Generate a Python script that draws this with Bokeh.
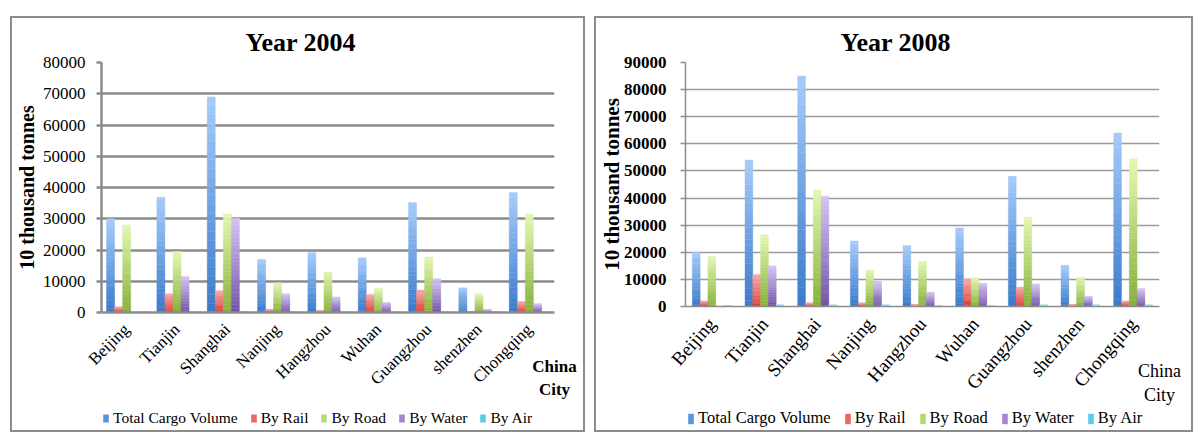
import math
from bokeh.plotting import figure
from bokeh.models import (ColumnDataSource, FactorRange, Range1d, SingleIntervalTicker,
                          Legend, LegendItem)
from bokeh.transform import dodge
from bokeh.layouts import row, column
from bokeh.embed import file_html
from bokeh.resources import INLINE

cities = ["Beijing", "Tianjin", "Shanghai", "Nanjing", "Hangzhou",
          "Wuhan", "Guangzhou", "shenzhen", "Chongqing"]
series_names = ["Total Cargo Volume", "By Rail", "By Road", "By Water", "By Air"]

# Year 2004 (10 thousand tonnes)
total_2004 = [30000, 36900, 69000, 17000, 19200, 17500, 35200, 7900, 38400]
rail_2004 = [1800, 6000, 7000, 1000, 500, 5800, 7200, 200, 3500]
road_2004 = [28000, 19500, 31500, 9500, 13000, 7800, 17800, 6000, 31500]
water_2004 = [0, 11500, 30200, 6000, 5000, 3200, 10800, 1000, 2800]
air_2004 = [30, 20, 40, 10, 10, 10, 30, 30, 10]

# Year 2008 (10 thousand tonnes)
total_2008 = [20000, 54000, 85000, 24200, 22500, 29000, 48000, 15200, 64000]
rail_2008 = [2000, 11800, 1300, 1300, 600, 10200, 7200, 600, 2000]
road_2008 = [18500, 26500, 43000, 13500, 16700, 10600, 33000, 10800, 54500]
water_2008 = [0, 15000, 40700, 9400, 5300, 8600, 8300, 3800, 6600]
air_2008 = [400, 500, 500, 500, 400, 400, 500, 500, 500]

top_colors = ["#A6CCFA", "#F6A9A5", "#E3F8B2", "#D5C5F1", "#A6E9F6"]
bot_colors = ["#3A7ACB", "#DB3B34", "#86B03A", "#7352A8", "#2DB6D4"]
legend_colors = ["#5A94DF", "#EA6861", "#B4DC72", "#A487D3", "#5BCCE6"]

FONT = "Liberation Serif"
BORDER = "2px solid #8c8c8c"


def mix(c1, c2, f):
    a = [int(c1[i:i + 2], 16) for i in (1, 3, 5)]
    b = [int(c2[i:i + 2], 16) for i in (1, 3, 5)]
    return "#%02x%02x%02x" % tuple(round(a[j] + (b[j] - a[j]) * f) for j in range(3))


def make_panel(title, series, y_max, cfg):
    p = figure(x_range=FactorRange(*cities), y_range=Range1d(0, y_max),
               width=cfg["w"], height=cfg["h"], output_backend="svg",
               toolbar_location=None,
               min_border_left=cfg["bl"], min_border_right=cfg["br"],
               min_border_top=cfg["bt"], min_border_bottom=cfg["bb"],
               margin=(16, 0, 0, cfg["ml"]),
               styles={"border-top": BORDER, "border-left": BORDER,
                       "border-right": BORDER, "box-sizing": "border-box"})
    p.outline_line_color = None
    p.background_fill_color = "white"
    p.border_fill_color = "white"

    n = 24
    bw = cfg["bar"]
    for s, vals in enumerate(series):
        xs, bots, tops, cols = [], [], [], []
        for c, v in zip(cities, vals):
            for k in range(n):
                xs.append(c)
                bots.append(v * k / n)
                tops.append(v * (k + 1) / n)
                cols.append(mix(bot_colors[s], top_colors[s], (k + 0.5) / n))
        src = ColumnDataSource(dict(x=xs, bottom=bots, top=tops, color=cols))
        p.vbar(x=dodge("x", (s - 2) * bw, range=p.x_range), bottom="bottom", top="top",
               width=bw, fill_color="color", line_color="color", line_width=0.4,
               source=src)

    # title
    p.title.text = title
    p.title.text_font = FONT
    p.title.text_font_size = "26px"
    p.title.text_font_style = "bold"
    p.title.text_color = "black"
    p.title.align = "left"
    p.title.offset = cfg["toff"]
    p.title.standoff = cfg["tstand"]

    # y axis
    p.yaxis.ticker = SingleIntervalTicker(interval=10000)
    p.yaxis.axis_label = "10 thousand tonnes"
    p.yaxis.axis_label_text_font = FONT
    p.yaxis.axis_label_text_font_style = "bold"
    p.yaxis.axis_label_text_color = "black"
    p.yaxis.axis_label_text_font_size = cfg["ylab_size"]
    p.yaxis.axis_label_standoff = cfg["ylab_stand"]
    p.yaxis.major_label_text_font = FONT
    p.yaxis.major_label_text_font_size = cfg["ytick_size"]
    p.yaxis.major_label_text_font_style = cfg["ytick_style"]
    p.yaxis.major_label_text_color = "black"
    p.yaxis.major_label_standoff = cfg["ytick_stand"]
    p.yaxis.major_tick_out = 5
    p.yaxis.major_tick_in = 0
    p.yaxis.minor_tick_line_color = None
    p.yaxis.axis_line_color = "#8c8c8c"
    p.yaxis.major_tick_line_color = "#8c8c8c"
    p.yaxis.axis_line_width = cfg["gw"]
    p.yaxis.major_tick_line_width = cfg["gw"]

    # x axis, with the "China / City" caption as its label at the right end
    ax = p.xaxis[0]
    ax.major_label_orientation = cfg["angle"]
    ax.major_label_text_font = FONT
    ax.major_label_text_font_size = cfg["xtick_size"]
    ax.major_label_text_color = "black"
    ax.major_label_standoff = cfg["xtick_stand"]
    ax.major_tick_line_color = None
    ax.minor_tick_line_color = None
    ax.axis_line_color = "#8c8c8c"
    ax.axis_line_width = cfg["gw"]
    ax.axis_label = "China\nCity"
    ax.axis_label_align = "end"
    ax.axis_label_standoff = cfg["cc_stand"]
    ax.axis_label_text_font = FONT
    ax.axis_label_text_font_size = cfg["cc_size"]
    ax.axis_label_text_font_style = cfg["cc_style"]
    ax.axis_label_text_color = "black"

    p.xgrid.grid_line_color = None
    p.ygrid.grid_line_color = cfg["gc"]
    p.ygrid.grid_line_width = cfg["gw"]
    p.ygrid.ticker = SingleIntervalTicker(interval=10000)

    # legend strip: a small figure under the chart
    q = figure(width=cfg["w"], height=cfg["sh"], x_range=Range1d(0, 1), y_range=Range1d(0, 1),
               output_backend="svg", toolbar_location=None, title=None,
               x_axis_location=None, y_axis_location=None, min_border=0,
               margin=(0, 0, 0, cfg["ml"]),
               styles={"border-bottom": BORDER, "border-left": BORDER,
                       "border-right": BORDER, "box-sizing": "border-box"})
    q.outline_line_color = None
    q.xgrid.visible = False
    q.ygrid.visible = False
    items = []
    for name, col in zip(series_names, legend_colors):
        # one off-screen bar per series, only used for the legend swatch
        r = q.vbar(x=[5.0], bottom=[5.0], top=[6.0], width=0.1, fill_color=col,
                   line_color=None)
        items.append(LegendItem(label=name, renderers=[r]))
    legend = Legend(items=items, orientation="horizontal", location=cfg["leg"],
                    glyph_width=7, glyph_height=cfg["gh"], label_standoff=4,
                    spacing=cfg["lsp"], padding=0, margin=0,
                    border_line_color=None, background_fill_alpha=0,
                    label_text_font=FONT, label_text_font_size=cfg["lsize"],
                    label_text_color="black", label_height=16)
    q.add_layout(legend)
    return column(p, q, spacing=0)


cfg1 = dict(w=575, h=384, ml=10, bl=87, br=33, bt=44, bb=89, bar=0.16,
            toff=144, tstand=11, ylab_size="20px", ylab_stand=2, ytick_size="17px",
            ytick_style="normal", ytick_stand=11, angle=math.pi / 4, xtick_size="17px",
            xtick_stand=8, gw=2.5, gc="#8c8c8c", cc_stand=-41,
            cc_size="17px", cc_style="bold", sh=32, leg=(1, 5), gh=10, lsp=12,
            lsize="15.5px")
cfg2 = dict(w=599, h=390, ml=9, bl=85, br=36, bt=44, bb=100, bar=0.148,
            toff=155, tstand=11, ylab_size="21px", ylab_stand=-3, ytick_size="17px",
            ytick_style="bold", ytick_stand=14, angle=0.85, xtick_size="19px",
            xtick_stand=8, gw=1.5, gc="#9a9a9a", cc_stand=-42,
            cc_size="18px", cc_style="normal", sh=26, leg=(2, 4), gh=13, lsp=13,
            lsize="16.5px")

c1 = make_panel("Year 2004", [total_2004, rail_2004, road_2004, water_2004, air_2004], 80000, cfg1)
c2 = make_panel("Year 2008", [total_2008, rail_2008, road_2008, water_2008, air_2008], 90000, cfg2)

layout = row(c1, c2, spacing=0)
open("out.html", "w").write(file_html(layout, INLINE))
